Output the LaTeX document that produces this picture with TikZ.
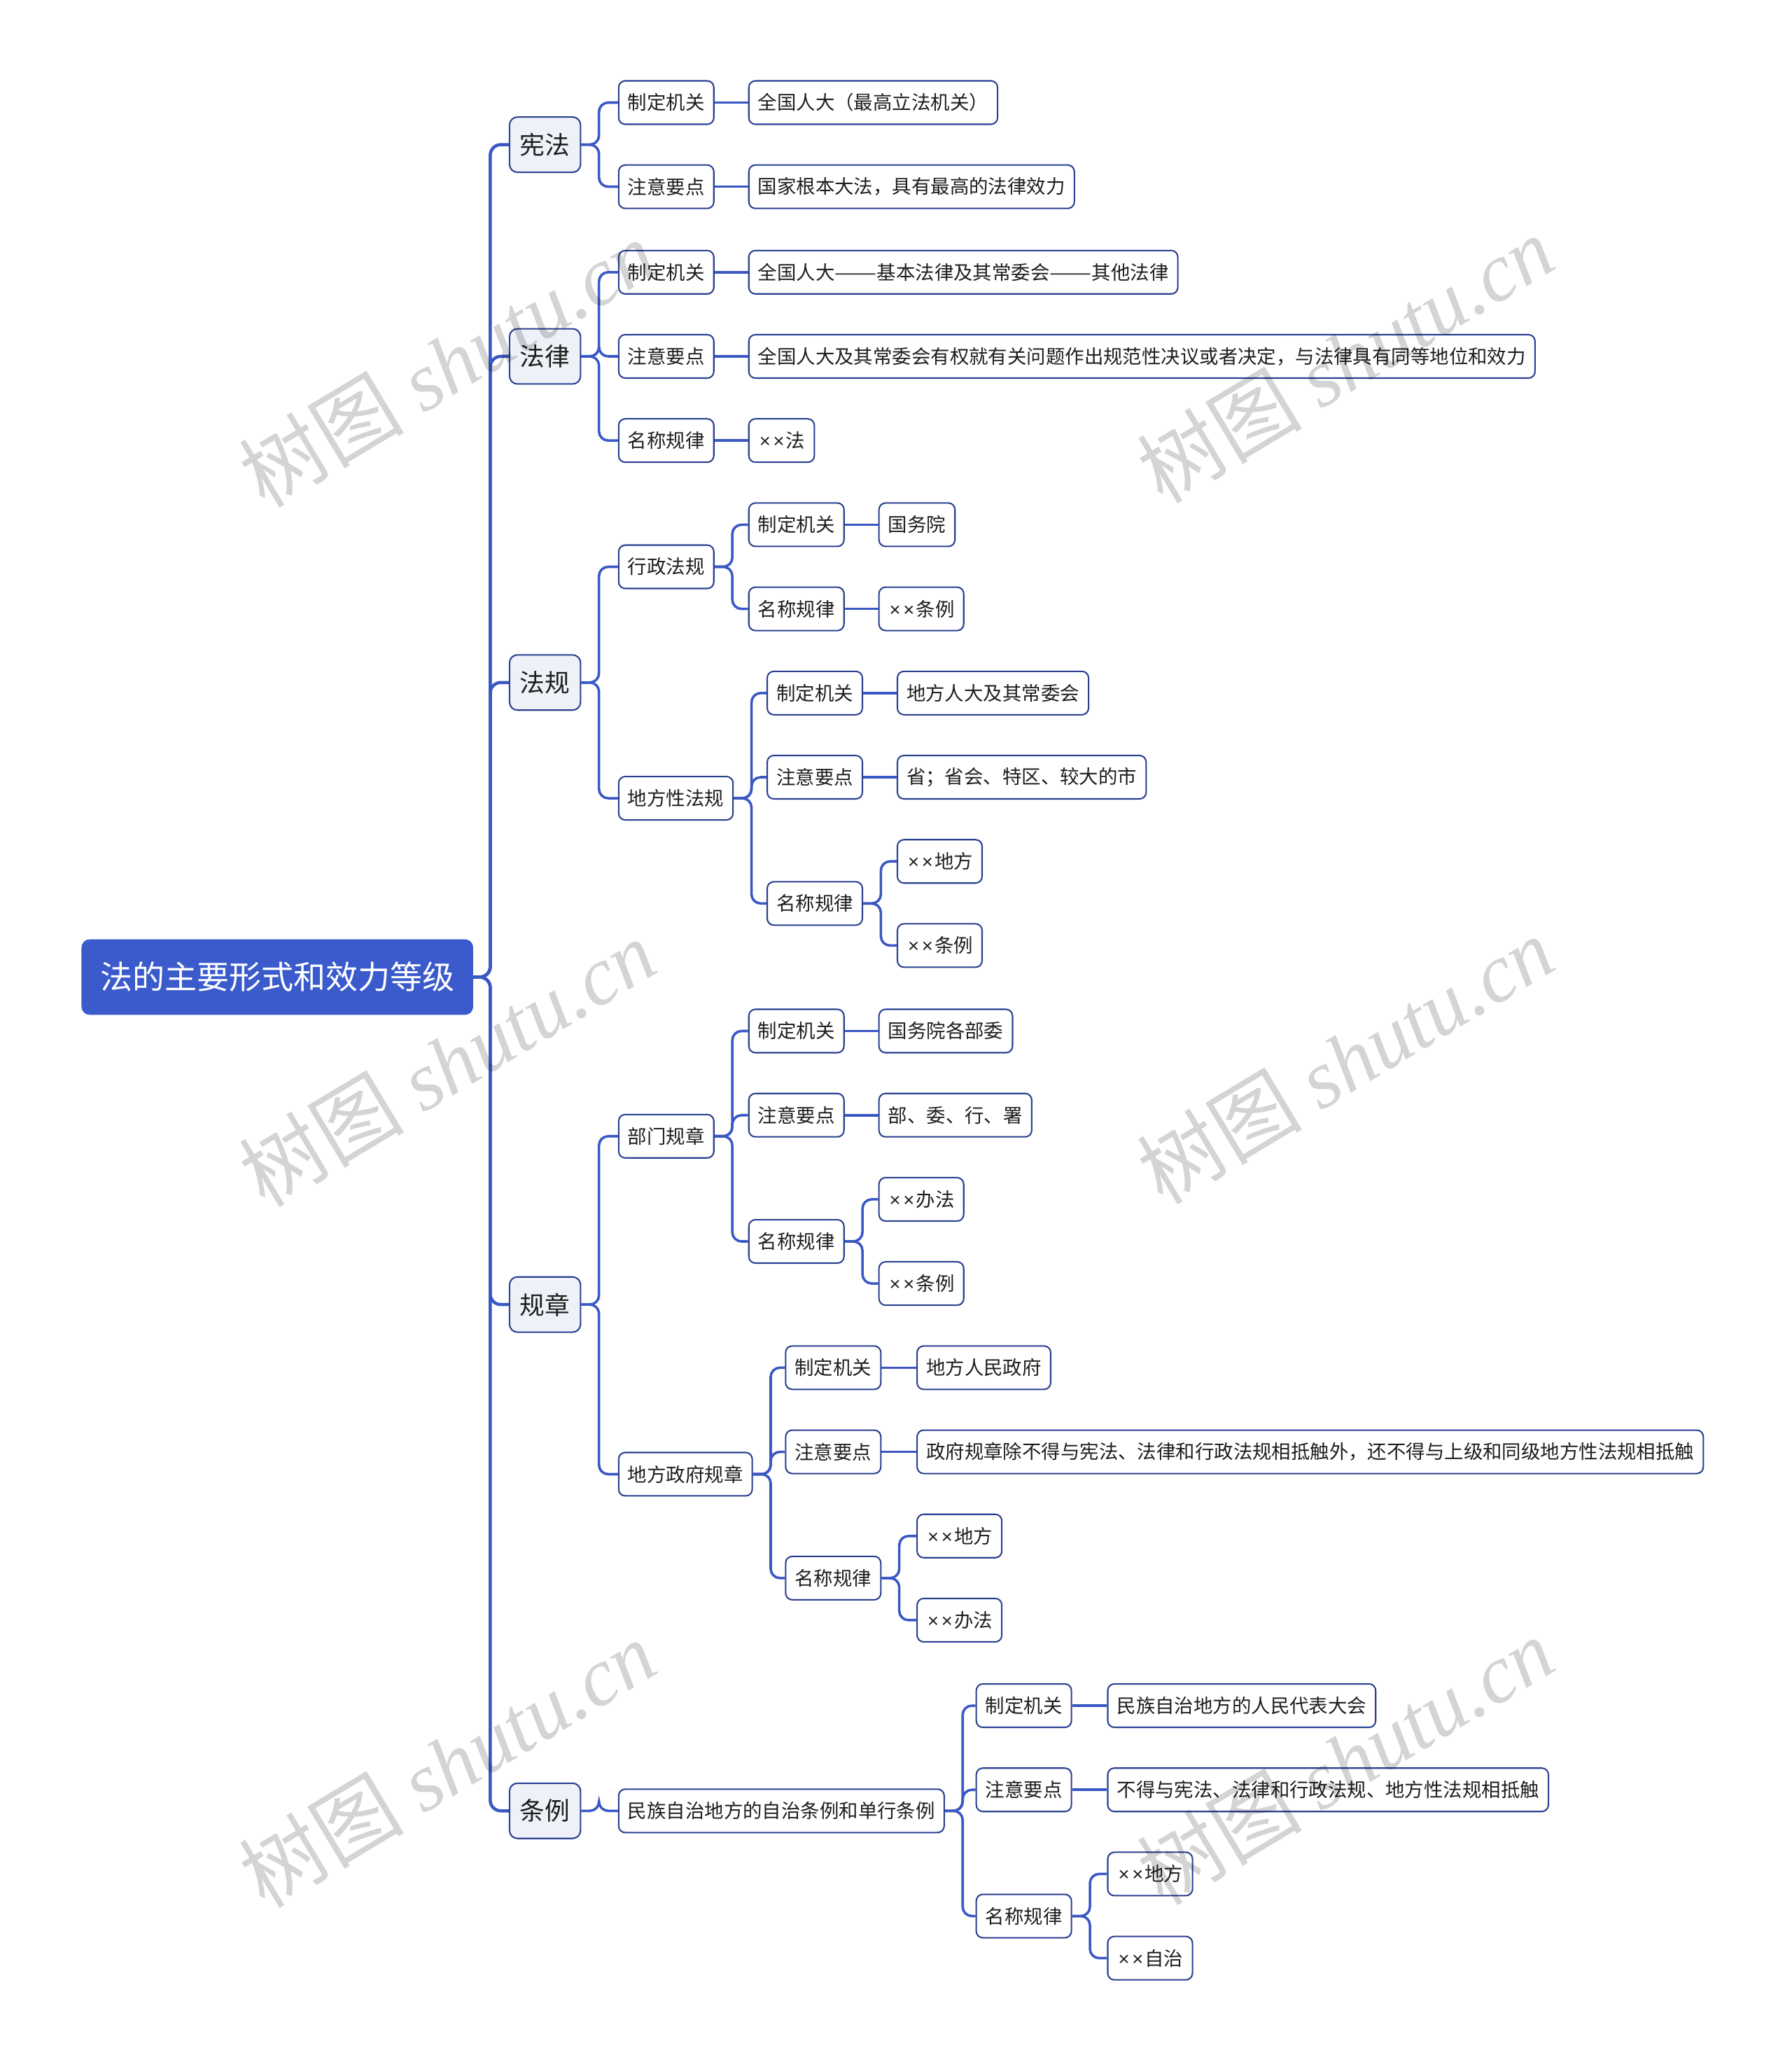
\documentclass[tikz,border=0pt]{standalone}
\usepackage{fontspec}
\usepackage{graphicx}
\setmainfont{Noto Sans CJK SC}
\newfontfamily\wmcjk{Noto Sans CJK SC}
\newfontfamily\wmlat{Liberation Serif}
\newfontfamily\latf{Liberation Sans}
\newcommand{\xx}{{\latf\kern1pt×\kern2pt×\kern1.2pt}}
\newcommand{\ddash}{\scalebox{1.31}[1]{——}}
\definecolor{rootblue}{RGB}{59,91,204}
\definecolor{linkblue}{RGB}{58,88,196}
\definecolor{bordblue}{RGB}{42,64,145}
\definecolor{lonefill}{RGB}{238,241,247}
\definecolor{txt}{RGB}{30,30,30}
\tikzset{
  rootbox/.style={fill=rootblue, draw=rootblue, text=white, rounded corners=6pt, anchor=west,
    font=\fontsize{24.5}{28}\selectfont, minimum height=57pt, inner xsep=14pt, inner ysep=0pt},
  lonebox/.style={fill=lonefill, draw=bordblue, line width=1.1pt, text=txt, rounded corners=6pt, anchor=west,
    font=\fontsize{19}{22}\selectfont, minimum height=42pt, inner xsep=8pt, inner ysep=0pt},
  ltwobox/.style={fill=white, draw=bordblue, line width=1.1pt, text=txt, rounded corners=5pt, anchor=west,
    font=\fontsize{14.6}{17}\selectfont, minimum height=33pt, inner xsep=7pt, inner ysep=0pt},
  conn/.style={draw=linkblue, line width=1.9pt, rounded corners=7pt},
  trunk/.style={draw=linkblue, line width=2.4pt, rounded corners=8pt},
  wm/.style={text=black, opacity=0.17, rotate=31, font=\fontsize{63}{66}\selectfont},
}
\begin{document}
\begin{tikzpicture}[x=1pt,y=1pt]
\useasboundingbox (0,0) rectangle (1363,-1568);
% root and level 1
\node[rootbox] (r) at (62,-743) {法的主要形式和效力等级};
\node[lonebox] (k1) at (387,-110) {宪法};
\node[lonebox] (k2) at (387,-271) {法律};
\node[lonebox] (k3) at (387,-519) {法规};
\node[lonebox] (k4) at (387,-992) {规章};
\node[lonebox] (k5) at (387,-1377) {条例};
% 宪法
\node[ltwobox] (a1) at (470,-78) {制定机关};
\node[ltwobox] (a1x) at (569,-78) {全国人大（最高立法机关）};
\node[ltwobox] (a2) at (470,-142) {注意要点};
\node[ltwobox] (a2x) at (569,-142) {国家根本大法，具有最高的法律效力};
% 法律
\node[ltwobox] (b1) at (470,-207) {制定机关};
\node[ltwobox] (b1x) at (569,-207) {全国人大\ddash 基本法律及其常委会\ddash 其他法律};
\node[ltwobox] (b2) at (470,-271) {注意要点};
\node[ltwobox] (b2x) at (569,-271) {全国人大及其常委会有权就有关问题作出规范性决议或者决定，与法律具有同等地位和效力};
\node[ltwobox] (b3) at (470,-335) {名称规律};
\node[ltwobox] (b3x) at (569,-335) {\xx 法};
% 法规
\node[ltwobox] (c1) at (470,-431) {行政法规};
\node[ltwobox] (c11) at (569,-399) {制定机关};
\node[ltwobox] (c11x) at (668,-399) {国务院};
\node[ltwobox] (c12) at (569,-463) {名称规律};
\node[ltwobox] (c12x) at (668,-463) {\xx 条例};
\node[ltwobox] (c2) at (470,-607) {地方性法规};
\node[ltwobox] (c21) at (583,-527) {制定机关};
\node[ltwobox] (c21x) at (682,-527) {地方人大及其常委会};
\node[ltwobox] (c22) at (583,-591) {注意要点};
\node[ltwobox] (c22x) at (682,-591) {省；省会、特区、较大的市};
\node[ltwobox] (c23) at (583,-687) {名称规律};
\node[ltwobox] (c231) at (682,-655) {\xx 地方};
\node[ltwobox] (c232) at (682,-719) {\xx 条例};
% 规章
\node[ltwobox] (d1) at (470,-864) {部门规章};
\node[ltwobox] (d11) at (569,-784) {制定机关};
\node[ltwobox] (d11x) at (668,-784) {国务院各部委};
\node[ltwobox] (d12) at (569,-848) {注意要点};
\node[ltwobox] (d12x) at (668,-848) {部、委、行、署};
\node[ltwobox] (d13) at (569,-944) {名称规律};
\node[ltwobox] (d131) at (668,-912) {\xx 办法};
\node[ltwobox] (d132) at (668,-976) {\xx 条例};
\node[ltwobox] (d2) at (470,-1121) {地方政府规章};
\node[ltwobox] (d21) at (597,-1040) {制定机关};
\node[ltwobox] (d21x) at (697,-1040) {地方人民政府};
\node[ltwobox] (d22) at (597,-1104) {注意要点};
\node[ltwobox] (d22x) at (697,-1104) {政府规章除不得与宪法、法律和行政法规相抵触外，还不得与上级和同级地方性法规相抵触};
\node[ltwobox] (d23) at (597,-1200) {名称规律};
\node[ltwobox] (d231) at (697,-1168) {\xx 地方};
\node[ltwobox] (d232) at (697,-1232) {\xx 办法};
% 条例
\node[ltwobox] (e1) at (470,-1377) {民族自治地方的自治条例和单行条例};
\node[ltwobox] (e11) at (742,-1297) {制定机关};
\node[ltwobox] (e11x) at (842,-1297) {民族自治地方的人民代表大会};
\node[ltwobox] (e12) at (742,-1361) {注意要点};
\node[ltwobox] (e12x) at (842,-1361) {不得与宪法、法律和行政法规、地方性法规相抵触};
\node[ltwobox] (e13) at (742,-1457) {名称规律};
\node[ltwobox] (e131) at (842,-1425) {\xx 地方};
\node[ltwobox] (e132) at (842,-1489) {\xx 自治};
% trunk connectors
\foreach \c in {k1,k2,k3,k4,k5}
  {\draw[trunk] (r.east) -- ++(13,0) |- (\c.west);}
% tree connectors
\foreach \p/\c in {k1/a1,k1/a2,k2/b1,k2/b2,k2/b3,k3/c1,k3/c2,
  c1/c11,c1/c12,c2/c21,c2/c22,c2/c23,c23/c231,c23/c232,
  k4/d1,k4/d2,d1/d11,d1/d12,d1/d13,d13/d131,d13/d132,
  d2/d21,d2/d22,d2/d23,d23/d231,d23/d232,
  k5/e1,e1/e11,e1/e12,e1/e13,e13/e131,e13/e132}
  {\draw[conn] (\p.east) -- ++(13.5,0) |- (\c.west);}
% straight connectors to leaves
\foreach \p/\c in {a1/a1x,a2/a2x,b1/b1x,b2/b2x,b3/b3x,c11/c11x,c12/c12x,
  c21/c21x,c22/c22x,d11/d11x,d12/d12x,d21/d21x,d22/d22x,e11/e11x,e12/e12x}
  {\draw[conn] (\p.east) -- (\c.west);}
% watermarks
\node[wm] (w1) at (340,-276) {{\wmcjk 树图} {\wmlat\itshape shutu.cn}};
\node[wm] (w2) at (1023,-273) {{\wmcjk 树图} {\wmlat\itshape shutu.cn}};
\node[wm] (w3) at (340,-808) {{\wmcjk 树图} {\wmlat\itshape shutu.cn}};
\node[wm] (w4) at (1023,-806) {{\wmcjk 树图} {\wmlat\itshape shutu.cn}};
\node[wm] (w5) at (340,-1341) {{\wmcjk 树图} {\wmlat\itshape shutu.cn}};
\node[wm] (w6) at (1023,-1339) {{\wmcjk 树图} {\wmlat\itshape shutu.cn}};
\end{tikzpicture}
\end{document}
